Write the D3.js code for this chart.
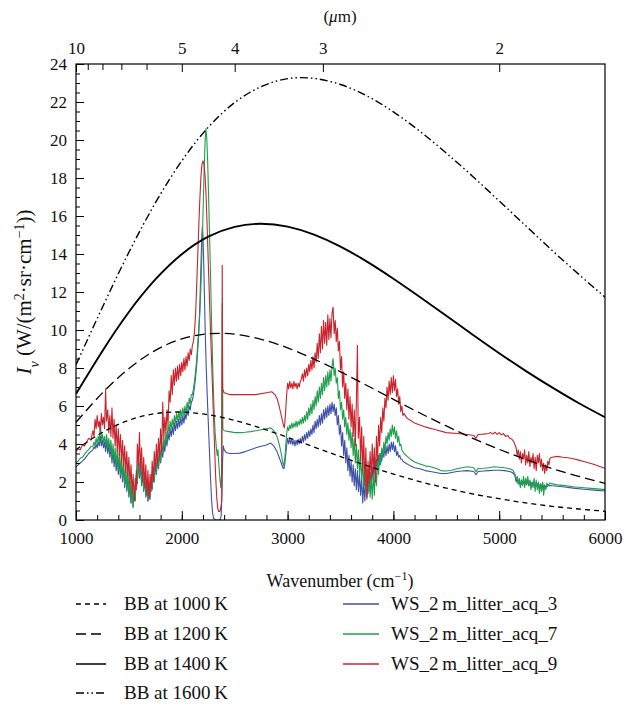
<!DOCTYPE html>
<html>
<head>
<meta charset="utf-8">
<script src="https://cdn.jsdelivr.net/npm/d3@7"></script>
<style>
  body { margin: 0; background: #fff; }
</style>
</head>
<body>
<script>
// ---- data ----
const bbWavenumbers = [1000, 1250, 1500, 1750, 2000, 2250, 2500, 2750, 3000, 3250, 3500,
                       3750, 4000, 4250, 4500, 4750, 5000, 5250, 5500, 5750, 6000];
const bb1000 = [3.70, 4.61, 5.25, 5.60, 5.68, 5.54, 5.24, 4.83, 4.35, 3.84, 3.34, 2.86, 2.42, 2.02, 1.68, 1.37, 1.12, 0.90, 0.72, 0.58, 0.46];
const bb1200 = [5.14, 6.69, 7.97, 8.93, 9.53, 9.80, 9.78, 9.51, 9.06, 8.47, 7.80, 7.08, 6.35, 5.63, 4.95, 4.30, 3.72, 3.19, 2.71, 2.30, 1.93];
const bb1400 = [6.64, 8.90, 10.95, 12.66, 13.99, 14.91, 15.43, 15.59, 15.44, 15.02, 14.39, 13.60, 12.70, 11.74, 10.75, 9.75, 8.78, 7.85, 6.98, 6.16, 5.41];
const bb1600 = [8.17, 11.20, 14.09, 16.69, 18.90, 20.67, 21.97, 22.81, 23.23, 23.24, 22.92, 22.32, 21.48, 20.46, 19.31, 18.08, 16.79, 15.49, 14.19, 12.94, 11.73];

// [wavenumber, intensity]
const acq3 = [
  [1000,2.8],[1020,2.9],[1040,3.0],[1060,3.1],[1080,3.2],[1100,3.35],[1120,3.5],[1140,3.6],[1160,3.7],[1170,3.85],
  [1180,3.75],[1190,4.0],[1200,3.8],[1210,4.1],[1220,3.9],[1230,4.4],[1240,3.9],[1250,4.2],[1260,3.8],[1270,4.1],
  [1280,3.6],[1290,4.2],[1300,3.5],[1310,4.0],[1320,3.3],[1330,3.9],[1340,3.0],[1350,3.7],[1360,2.8],[1370,3.5],
  [1380,2.6],[1390,3.4],[1400,2.4],[1410,3.2],[1420,2.2],[1430,3.0],[1440,2.0],[1450,2.8],[1460,1.7],[1470,2.5],
  [1480,1.5],[1490,2.3],[1500,1.2],[1510,2.0],[1520,0.9],[1530,1.7],[1540,0.7],[1550,1.4],[1560,1.0],[1570,2.4],
  [1580,1.9],[1590,3.2],[1600,2.2],[1610,3.0],[1620,1.8],[1630,2.6],[1640,1.5],[1650,2.3],[1660,1.2],[1670,2.0],
  [1680,1.0],[1690,1.9],[1700,1.1],[1710,2.2],[1720,1.6],[1730,2.6],[1740,2.0],[1750,3.0],[1760,2.4],[1770,3.2],
  [1780,2.7],[1790,3.5],[1800,3.0],[1810,3.8],[1820,3.3],[1830,4.0],[1840,3.6],[1850,4.3],[1860,3.9],[1870,4.6],
  [1880,4.2],[1890,4.8],[1900,4.4],[1910,4.9],[1920,4.5],[1930,5.1],[1940,4.7],[1950,5.2],[1960,4.8],[1970,5.3],
  [1980,4.9],[1990,5.4],[2000,5.0],[2010,5.5],[2020,5.1],[2030,5.6],[2040,5.3],[2050,5.8],[2060,5.5],[2070,6.0],
  [2080,5.8],[2090,6.2],[2100,6.3],[2110,6.6],[2120,7.0],[2130,7.5],[2140,8.1],[2150,8.9],[2160,9.8],[2170,11.2],
  [2180,13.2],[2188,14.8],[2194,15.4],[2200,15.0],[2206,13.8],[2214,11.8],[2222,9.8],[2230,8.2],[2240,6.6],[2250,5.2],
  [2260,3.8],[2270,2.4],[2280,1.2],[2290,0.4],[2300,0.1],[2320,0.0],[2340,0.0],[2360,0.0],[2372,0.2],[2380,1.6],
  [2386,3.2],[2392,3.9],[2400,3.7],[2420,3.55],[2450,3.5],[2500,3.5],[2550,3.52],[2600,3.6],[2650,3.7],[2700,3.8],
  [2750,3.88],[2800,3.95],[2840,4.05],[2870,3.9],[2900,3.6],[2920,3.3],[2940,3.0],[2955,2.75],[2965,2.7],[2975,3.0],
  [2990,3.9],[3000,4.3],[3010,4.0],[3020,4.3],[3030,4.0],[3040,4.25],[3050,3.95],[3060,4.2],[3070,3.9],[3080,4.2],
  [3090,3.95],[3100,4.25],[3110,4.0],[3120,4.3],[3130,4.05],[3140,4.4],[3150,4.1],[3160,4.5],[3170,4.2],[3180,4.6],
  [3190,4.3],[3200,4.7],[3210,4.4],[3220,4.8],[3230,4.5],[3240,5.0],[3250,4.6],[3260,5.2],[3270,4.8],[3280,5.3],
  [3290,4.9],[3300,5.5],[3310,5.0],[3320,5.6],[3330,5.1],[3340,5.8],[3350,5.3],[3360,5.9],[3370,5.4],[3380,6.0],
  [3390,5.5],[3400,6.1],[3410,5.6],[3420,6.2],[3430,5.7],[3440,6.1],[3450,5.5],[3460,5.9],[3470,5.0],[3480,5.5],
  [3490,4.5],[3500,5.0],[3510,3.9],[3520,4.6],[3530,3.4],[3540,4.2],[3550,3.0],[3560,3.8],[3570,2.6],[3580,3.4],
  [3590,2.3],[3600,3.1],[3610,2.0],[3620,2.9],[3630,1.8],[3640,2.7],[3650,1.6],[3660,2.6],[3670,1.5],[3680,2.4],
  [3690,1.3],[3700,2.2],[3710,0.9],[3720,2.0],[3730,1.0],[3740,2.1],[3750,1.2],[3760,2.3],[3770,1.5],[3780,2.5],
  [3790,1.8],[3800,2.8],[3810,2.1],[3820,3.0],[3830,2.4],[3840,3.2],[3850,2.7],[3860,3.4],[3870,2.9],[3880,3.5],
  [3890,3.1],[3900,3.7],[3910,3.3],[3920,3.8],[3930,3.4],[3940,3.9],[3950,3.5],[3960,4.0],[3970,3.6],[3980,4.1],
  [3990,3.7],[4000,4.1],[4010,3.6],[4020,3.9],[4030,3.4],[4040,3.6],[4050,3.3],[4060,3.4],[4070,3.2],[4080,3.2],
  [4090,3.1],[4100,3.05],[4130,2.95],[4160,2.85],[4200,2.75],[4250,2.7],[4300,2.6],[4350,2.55],[4400,2.5],[4450,2.45],
  [4500,2.45],[4550,2.5],[4600,2.55],[4650,2.58],[4700,2.6],[4760,2.55],[4780,2.38],[4800,2.55],[4850,2.58],[4900,2.6],
  [4950,2.62],[5000,2.62],[5050,2.6],[5100,2.55],[5130,2.48],[5150,2.3],[5160,2.0],[5170,2.2],[5180,1.9],[5190,2.1],
  [5200,1.8],[5210,2.1],[5220,1.85],[5230,2.15],[5240,1.8],[5250,2.1],[5260,1.85],[5270,2.1],[5280,1.8],[5290,2.05],
  [5300,1.75],[5310,2.0],[5320,1.8],[5330,2.05],[5340,1.7],[5350,2.0],[5360,1.75],[5370,1.95],[5380,1.65],[5390,1.9],
  [5400,1.7],[5410,1.95],[5420,1.65],[5430,1.85],[5440,1.7],[5460,1.8],[5480,1.82],[5500,1.8],[5600,1.75],[5700,1.68],
  [5800,1.62],[5900,1.57],[6000,1.53]
];

const acq7 = [
  [1000,3.0],[1020,3.1],[1040,3.25],[1060,3.3],[1080,3.45],[1100,3.6],[1120,3.7],[1140,3.85],[1160,3.9],[1170,4.1],
  [1180,3.9],[1190,4.3],[1200,4.0],[1210,4.4],[1220,4.1],[1230,5.1],[1240,4.2],[1250,4.5],[1260,4.1],[1270,4.4],
  [1280,3.9],[1290,4.5],[1300,3.8],[1310,4.3],[1320,3.6],[1330,4.2],[1340,3.3],[1350,4.0],[1360,3.1],[1370,3.8],
  [1380,2.8],[1390,3.7],[1400,2.6],[1410,3.6],[1420,2.4],[1430,3.3],[1440,2.2],[1450,3.0],[1460,1.9],[1470,2.8],
  [1480,1.6],[1490,2.6],[1500,1.3],[1510,2.2],[1520,0.9],[1530,1.8],[1540,0.65],[1550,1.5],[1560,1.1],[1570,2.6],
  [1580,2.0],[1590,3.5],[1600,2.4],[1610,3.2],[1620,1.9],[1630,2.8],[1640,1.6],[1650,2.5],[1660,1.3],[1670,2.2],
  [1680,1.0],[1690,2.0],[1700,1.2],[1710,2.4],[1720,1.7],[1730,2.8],[1740,2.1],[1750,3.2],[1760,2.5],[1770,3.5],
  [1780,2.8],[1790,3.8],[1800,3.1],[1810,4.1],[1820,3.5],[1830,4.3],[1840,3.9],[1850,4.6],[1860,4.2],[1870,5.0],
  [1880,4.6],[1890,5.2],[1900,4.8],[1910,5.3],[1920,4.9],[1930,5.5],[1940,5.1],[1950,5.6],[1960,5.2],[1970,5.7],
  [1980,5.3],[1990,5.8],[2000,5.4],[2010,5.9],[2020,5.5],[2030,6.0],[2040,5.6],[2050,6.2],[2060,5.8],[2070,6.4],
  [2080,6.1],[2090,6.6],[2100,6.6],[2110,6.9],[2120,7.3],[2130,7.8],[2140,8.4],[2150,9.2],[2160,10.0],[2170,10.8],
  [2180,12.2],[2190,14.0],[2200,16.0],[2210,18.2],[2220,19.9],[2228,20.6],[2236,20.1],[2245,18.8],[2255,16.6],[2265,14.4],
  [2275,12.0],[2285,9.6],[2295,7.5],[2305,5.8],[2315,4.6],[2325,3.9],[2335,3.4],[2342,3.7],[2350,2.9],[2360,2.2],
  [2368,1.7],[2376,2.4],[2382,11.4],[2388,4.8],[2400,4.7],[2450,4.65],[2500,4.6],[2550,4.6],[2600,4.62],[2650,4.65],
  [2700,4.7],[2750,4.75],[2800,4.8],[2840,4.85],[2870,4.7],[2900,4.4],[2920,4.0],[2940,3.5],[2955,3.0],[2965,2.85],
  [2975,3.3],[2990,4.5],[3000,4.9],[3010,4.7],[3020,5.0],[3030,4.8],[3040,5.1],[3050,4.85],[3060,5.1],[3070,4.9],
  [3080,5.2],[3090,4.9],[3100,5.2],[3110,5.0],[3120,5.3],[3130,5.05],[3140,5.4],[3150,5.1],[3160,5.5],[3170,5.2],
  [3180,5.7],[3190,5.3],[3200,5.9],[3210,5.5],[3220,6.1],[3230,5.6],[3240,6.3],[3250,5.8],[3260,6.5],[3270,6.0],
  [3280,6.8],[3290,6.2],[3300,7.0],[3310,6.4],[3320,7.2],[3330,6.6],[3340,7.5],[3350,6.8],[3360,7.6],[3370,7.0],
  [3380,7.8],[3390,7.1],[3400,7.9],[3410,7.3],[3420,8.1],[3430,8.5],[3440,7.6],[3450,8.0],[3460,7.2],[3470,7.5],
  [3480,6.4],[3490,6.8],[3500,5.8],[3510,6.2],[3520,5.3],[3530,5.8],[3540,4.9],[3550,5.4],[3560,4.5],[3570,5.1],
  [3580,4.2],[3590,4.8],[3600,3.8],[3610,4.6],[3620,3.4],[3630,4.3],[3640,3.0],[3650,4.0],[3660,2.7],[3670,3.7],
  [3680,2.4],[3690,3.4],[3700,2.1],[3710,3.1],[3720,1.8],[3730,2.9],[3740,1.5],[3750,2.7],[3760,1.4],[3770,2.5],
  [3780,1.2],[3790,2.3],[3800,1.1],[3810,2.5],[3820,1.3],[3830,2.8],[3840,1.8],[3850,3.2],[3860,2.4],[3870,3.5],
  [3880,2.9],[3890,3.8],[3900,3.3],[3910,4.1],[3920,3.6],[3930,4.4],[3940,4.0],[3950,4.6],[3960,4.2],[3970,4.8],
  [3980,4.4],[3990,5.0],[4000,4.5],[4010,4.9],[4020,4.3],[4030,4.7],[4040,4.1],[4050,4.4],[4060,3.9],[4070,4.0],
  [4080,3.7],[4090,3.6],[4100,3.5],[4130,3.35],[4160,3.2],[4200,3.05],[4250,2.95],[4300,2.85],[4350,2.8],[4400,2.72],
  [4450,2.6],[4500,2.58],[4550,2.62],[4600,2.7],[4650,2.75],[4700,2.8],[4760,2.75],[4780,2.55],[4800,2.7],[4850,2.72],
  [4900,2.75],[4950,2.8],[5000,2.78],[5050,2.75],[5100,2.7],[5130,2.62],[5150,2.4],[5160,2.1],[5170,2.3],[5180,1.9],
  [5190,2.2],[5200,1.7],[5210,2.1],[5220,1.8],[5230,2.3],[5240,1.7],[5250,2.2],[5260,1.9],[5270,2.3],[5280,1.8],
  [5290,2.1],[5300,1.6],[5310,2.0],[5320,1.7],[5330,2.2],[5340,1.5],[5350,2.1],[5360,1.6],[5370,2.0],[5380,1.4],
  [5390,1.9],[5400,1.5],[5410,2.0],[5420,1.3],[5430,1.8],[5440,1.6],[5450,1.95],[5460,1.8],[5480,1.95],[5500,1.9],
  [5550,1.85],[5600,1.82],[5700,1.75],[5800,1.7],[5900,1.65],[6000,1.6]
];

const acq9 = [
  [1000,3.6],[1020,3.75],[1040,3.7],[1060,3.95],[1080,3.9],[1100,4.1],[1120,4.3],[1140,4.2],[1160,4.7],[1170,4.4],
  [1180,5.3],[1190,4.8],[1200,5.5],[1210,4.9],[1220,5.2],[1230,4.7],[1240,5.6],[1250,5.0],[1260,5.4],[1270,4.8],
  [1280,6.9],[1288,5.2],[1300,5.8],[1310,4.6],[1320,5.5],[1330,4.4],[1340,5.9],[1350,4.3],[1360,5.3],[1370,3.9],
  [1380,5.0],[1390,3.6],[1400,4.8],[1410,3.4],[1420,4.5],[1430,3.0],[1440,4.2],[1450,2.8],[1460,3.9],[1470,2.5],
  [1480,3.6],[1490,2.3],[1500,3.3],[1510,1.9],[1520,2.9],[1530,1.4],[1540,2.4],[1550,1.0],[1560,2.2],[1570,1.6],
  [1580,4.0],[1590,2.9],[1600,4.6],[1610,2.6],[1620,3.8],[1630,2.0],[1640,3.3],[1650,1.7],[1660,2.9],[1670,1.3],
  [1680,2.6],[1690,1.1],[1700,2.4],[1710,1.5],[1720,3.1],[1730,2.0],[1740,3.6],[1750,2.6],[1760,4.0],[1770,2.9],
  [1780,4.3],[1790,3.3],[1800,4.8],[1810,3.6],[1820,6.2],[1830,4.3],[1840,5.4],[1850,4.6],[1860,5.8],[1870,5.0],
  [1880,6.8],[1890,6.2],[1900,7.6],[1910,6.6],[1920,7.9],[1930,7.1],[1940,8.0],[1950,7.3],[1960,8.1],[1970,7.4],
  [1980,8.2],[1990,7.6],[2000,8.3],[2010,7.8],[2020,8.5],[2030,7.9],[2040,8.6],[2050,8.1],[2060,8.8],[2070,8.4],
  [2080,9.0],[2090,8.7],[2100,9.2],[2110,9.4],[2120,9.9],[2130,10.8],[2140,12.2],[2150,13.8],[2160,15.4],[2170,16.8],
  [2180,18.0],[2190,18.7],[2200,18.9],[2210,18.7],[2220,18.1],[2230,17.0],[2240,15.4],[2250,13.6],[2260,11.9],[2270,10.2],
  [2280,8.6],[2290,7.0],[2300,5.4],[2310,3.8],[2320,2.3],[2330,1.2],[2340,0.6],[2350,0.45],[2360,0.45],[2370,0.7],
  [2378,1.0],[2382,13.4],[2386,6.9],[2400,6.7],[2450,6.6],[2500,6.6],[2600,6.6],[2700,6.6],[2800,6.7],[2850,6.75],
  [2880,6.6],[2900,6.4],[2920,6.0],[2940,5.5],[2960,5.0],[2970,4.85],[2980,5.6],[2990,6.5],[3000,7.2],[3010,6.9],
  [3020,7.3],[3030,6.95],[3040,7.2],[3050,6.9],[3060,7.3],[3070,7.0],[3080,7.2],[3090,6.9],[3100,7.2],[3110,7.0],
  [3120,7.3],[3130,7.4],[3140,7.7],[3150,7.3],[3160,7.9],[3170,7.5],[3180,8.0],[3190,7.6],[3200,8.2],[3210,7.8],
  [3220,8.4],[3230,7.9],[3240,8.6],[3250,8.0],[3260,8.8],[3270,8.3],[3280,9.3],[3290,8.5],[3300,9.8],[3310,8.8],
  [3320,10.2],[3330,9.0],[3340,10.5],[3350,9.3],[3360,10.4],[3370,9.2],[3380,10.8],[3390,9.5],[3400,10.6],[3410,9.6],
  [3420,10.9],[3430,11.2],[3440,9.8],[3450,10.5],[3460,9.4],[3470,10.1],[3480,8.9],[3490,9.4],[3500,7.9],[3510,8.6],
  [3520,7.0],[3530,7.8],[3540,6.4],[3550,7.2],[3560,5.8],[3570,6.9],[3580,5.3],[3590,6.5],[3600,4.9],[3610,6.1],
  [3620,4.4],[3630,5.8],[3640,3.9],[3650,6.2],[3660,9.2],[3668,4.3],[3680,5.4],[3690,3.2],[3700,4.9],[3710,2.6],
  [3720,4.4],[3730,1.8],[3740,3.8],[3750,1.1],[3760,3.1],[3770,1.9],[3780,3.6],[3790,2.2],[3800,4.0],[3810,2.5],
  [3820,3.8],[3830,2.0],[3840,4.4],[3850,3.1],[3860,5.0],[3870,3.9],[3880,5.4],[3890,4.6],[3900,5.9],[3910,5.2],
  [3920,6.4],[3930,5.9],[3940,7.0],[3950,6.3],[3960,7.3],[3970,6.6],[3980,7.5],[3990,6.7],[4000,7.6],[4010,6.8],
  [4020,7.4],[4030,6.5],[4040,6.9],[4050,6.1],[4060,6.5],[4070,5.7],[4080,6.0],[4090,5.5],[4100,5.6],[4130,5.35],
  [4160,5.25],[4200,5.1],[4250,5.0],[4300,4.9],[4400,4.75],[4500,4.6],[4600,4.55],[4700,4.5],[4760,4.45],[4780,4.3],
  [4800,4.5],[4850,4.52],[4900,4.55],[4920,4.6],[4940,4.52],[4960,4.62],[4980,4.5],[5000,4.6],[5020,4.48],[5040,4.55],
  [5060,4.4],[5080,4.45],[5100,4.3],[5120,4.25],[5140,4.1],[5160,3.8],[5170,3.4],[5180,3.7],[5190,3.2],[5200,3.6],
  [5210,3.0],[5220,3.5],[5230,3.2],[5240,3.7],[5250,2.9],[5260,3.4],[5270,3.0],[5280,3.6],[5290,2.8],[5300,3.3],
  [5310,3.0],[5320,3.5],[5330,2.7],[5340,3.3],[5350,2.6],[5360,3.4],[5370,3.0],[5380,3.5],[5390,2.8],[5400,3.2],
  [5410,2.6],[5420,3.0],[5430,2.45],[5440,2.9],[5450,2.6],[5460,3.1],[5470,2.9],[5480,3.25],[5500,3.3],[5550,3.35],
  [5600,3.3],[5650,3.28],[5700,3.22],[5750,3.15],[5800,3.08],[5850,3.0],[5900,2.92],[5950,2.82],[6000,2.72]
];

const xMajorTicks = [1000, 2000, 3000, 4000, 5000, 6000];
const yMajorTicks = [0, 2, 4, 6, 8, 10, 12, 14, 16, 18, 20, 22, 24];
const micronLabels = [10, 5, 4, 3, 2];
const micronMinor = [9, 8, 7, 6];

const bbSeries = [
  { name: "BB at 1000\u2009K", values: bb1000, dash: "5,4", width: 1.3 },
  { name: "BB at 1200\u2009K", values: bb1200, dash: "10,5", width: 1.3 },
  { name: "BB at 1400\u2009K", values: bb1400, dash: null, width: 1.9 },
  { name: "BB at 1600\u2009K", values: bb1600, dash: "8,3,1.5,3,1.5,3", width: 1.4 }
];
const wsSeries = [
  { name: "WS_2\u2009m_litter_acq_3", values: acq3, color: "#3d51a8" },
  { name: "WS_2\u2009m_litter_acq_7", values: acq7, color: "#1f9f4b" },
  { name: "WS_2\u2009m_litter_acq_9", values: acq9, color: "#c9232d" }
];

// ---- drawing ----
const FONT = "'Liberation Serif', 'Times New Roman', Times, 'DejaVu Serif', serif";
const W = 626, H = 708;
const svg = d3.select("body").append("svg").attr("width", W).attr("height", H)
  .style("font-family", FONT);

const x = d3.scaleLinear().domain([1000, 6000]).range([76, 605]);
const y = d3.scaleLinear().domain([0, 24]).range([520, 64]);

svg.append("defs").append("clipPath").attr("id", "plotclip")
  .append("rect").attr("x", 76).attr("y", 64).attr("width", 529).attr("height", 456);

const plot = svg.append("g").attr("clip-path", "url(#plotclip)");

const wsLine = d3.line().x(d => x(d[0])).y(d => y(d[1]));
plot.selectAll("path.ws").data(wsSeries).enter().append("path")
  .attr("class", "ws")
  .attr("fill", "none")
  .attr("stroke", d => d.color)
  .attr("stroke-width", 1.1)
  .attr("stroke-linejoin", "round")
  .attr("d", d => wsLine(d.values));

const bbLine = d3.line().curve(d3.curveNatural)
  .x((d, i) => x(bbWavenumbers[i])).y(d => y(d));
plot.selectAll("path.bb").data(bbSeries).enter().append("path")
  .attr("class", "bb")
  .attr("fill", "none")
  .attr("stroke", "#000")
  .attr("stroke-width", d => d.width)
  .attr("stroke-dasharray", d => d.dash)
  .attr("d", d => bbLine(d.values));

// axes
const gBottom = svg.append("g").attr("transform", "translate(0,520)");
gBottom.call(d3.axisBottom(x).tickValues(d3.range(1000, 6001, 200)).tickSize(-5).tickFormat(""));
gBottom.append("g").call(d3.axisBottom(x).tickValues(xMajorTicks).tickSize(-9).tickPadding(12).tickFormat(d3.format("d")));

const gLeft = svg.append("g").attr("transform", "translate(76,0)");
gLeft.call(d3.axisLeft(y).tickValues(d3.range(0, 24.01, 0.5)).tickSize(-4).tickFormat(""));
gLeft.append("g").call(d3.axisLeft(y).tickValues(yMajorTicks).tickSize(-8).tickPadding(9));

const gTop = svg.append("g").attr("transform", "translate(0,64)");
gTop.call(d3.axisTop(x).tickValues(micronMinor.map(m => 1e4 / m)).tickSize(-6).tickFormat(""));
gTop.append("g").call(d3.axisTop(x).tickValues(micronLabels.map(m => 1e4 / m)).tickSize(-8).tickPadding(10)
  .tickFormat(v => d3.format("d")(Math.round(1e4 / v))));

svg.selectAll(".domain").remove();
svg.selectAll(".tick line").attr("stroke", "#000").attr("stroke-width", 1);
svg.selectAll("g[font-family]").attr("font-family", null).attr("font-size", null);
svg.selectAll(".tick text").style("font-family", FONT).style("font-size", "17px").attr("fill", "#111");

svg.append("rect").attr("x", 76).attr("y", 64).attr("width", 529).attr("height", 456)
  .attr("fill", "none").attr("stroke", "#000").attr("stroke-width", 1.2);

// axis titles
const xt = svg.append("text").attr("x", 340).attr("y", 587).attr("text-anchor", "middle")
  .style("font-family", FONT).style("font-size", "18px").attr("fill", "#111");
xt.append("tspan").text("Wavenumber (cm");
xt.append("tspan").attr("baseline-shift", "super").style("font-size", "12px").text("\u22121");
xt.append("tspan").text(")");

const yt = svg.append("text").attr("transform", "translate(31,292) rotate(-90)")
  .attr("text-anchor", "middle").style("font-family", FONT).style("font-size", "21px").attr("fill", "#111");
yt.append("tspan").style("font-style", "italic").text("I");
yt.append("tspan").attr("baseline-shift", "sub").style("font-size", "14px").style("font-style", "italic").text("\u03bd");
yt.append("tspan").text(" (W/(m");
yt.append("tspan").attr("baseline-shift", "super").style("font-size", "14px").text("2");
yt.append("tspan").text("\u00b7sr\u00b7cm");
yt.append("tspan").attr("baseline-shift", "super").style("font-size", "14px").text("\u22121");
yt.append("tspan").text("))");

const ut = svg.append("text").attr("x", 340).attr("y", 22).attr("text-anchor", "middle")
  .style("font-family", FONT).style("font-size", "17px").attr("fill", "#111");
ut.append("tspan").text("(");
ut.append("tspan").style("font-style", "italic").text("\u03bc");
ut.append("tspan").text("m)");

// legend
const rowY = [604, 634, 664, 693];
const legL = svg.append("g").selectAll("g").data(bbSeries).enter().append("g")
  .attr("transform", (d, i) => `translate(0,${rowY[i]})`);
legL.append("line").attr("x1", 76).attr("x2", 106).attr("y1", 0).attr("y2", 0)
  .attr("stroke", "#000").attr("stroke-width", d => Math.min(d.width, 1.5)).attr("stroke-dasharray", d => d.dash);
legL.append("text").attr("x", 124).attr("y", 6).style("font-family", FONT).style("font-size", "19px")
  .attr("fill", "#111").text(d => d.name);

const legR = svg.append("g").selectAll("g").data(wsSeries).enter().append("g")
  .attr("transform", (d, i) => `translate(0,${rowY[i]})`);
legR.append("line").attr("x1", 343).attr("x2", 379).attr("y1", 0).attr("y2", 0)
  .attr("stroke", d => d.color).attr("stroke-width", 1.3);
legR.append("text").attr("x", 391).attr("y", 6).style("font-family", FONT).style("font-size", "19px")
  .attr("fill", "#111").text(d => d.name);
</script>
</body>
</html>
